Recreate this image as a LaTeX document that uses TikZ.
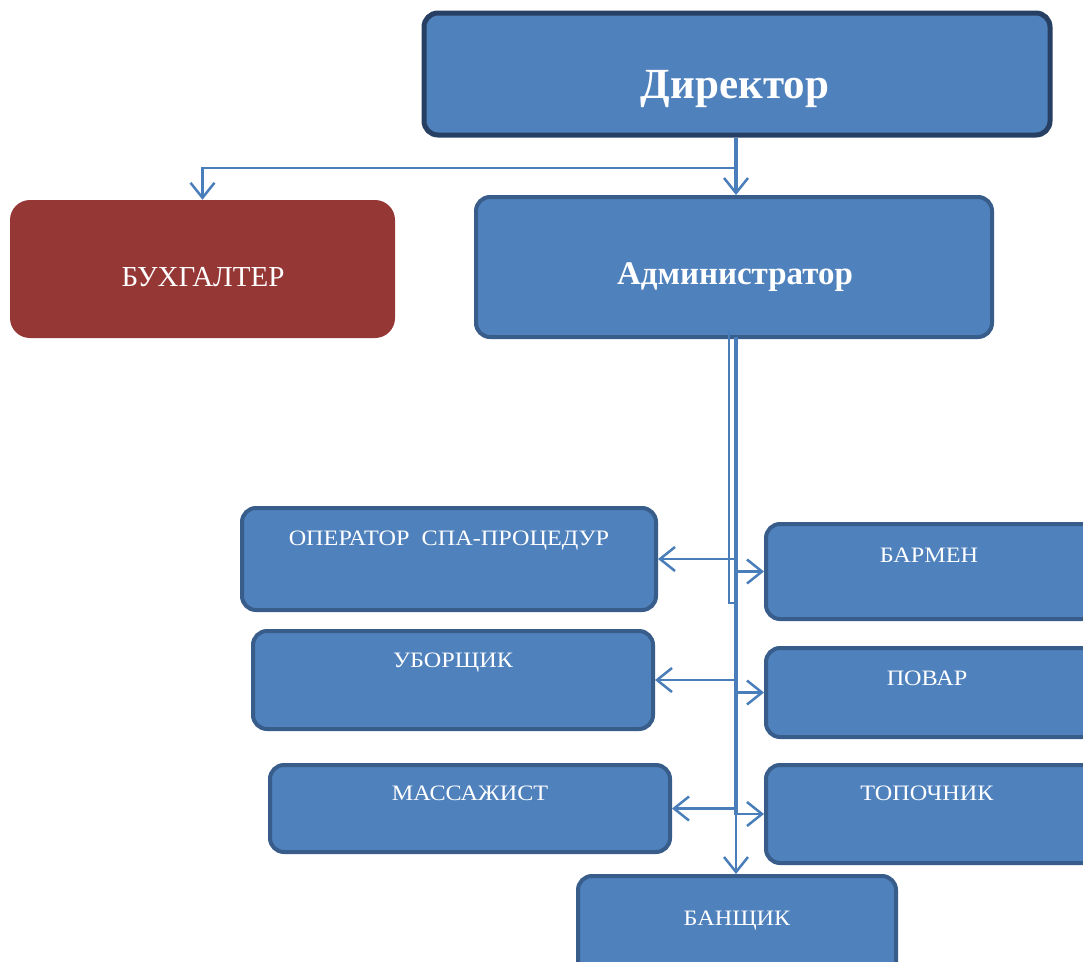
\documentclass[tikz,border=0pt]{standalone}
\usepackage{fontspec}
\setmainfont{Liberation Serif}
\usetikzlibrary{arrows.meta}
\definecolor{boxfill}{HTML}{4F81BD}
\definecolor{boxline}{HTML}{385D8A}
\definecolor{dirline}{HTML}{263F62}
\definecolor{redfill}{HTML}{953735}
\definecolor{conncol}{HTML}{4A7EBB}
\newcommand{\wide}[1]{\scalebox{1.1}[1]{#1}}
\tikzset{
  box/.style={draw=boxline, fill=boxfill, line width=4pt, rounded corners=14pt, inner sep=0pt},
  lbl/.style={text=white, font=\fontsize{22}{26}\selectfont, inner sep=0pt},
  conn/.style={draw=conncol, line width=2.5pt},
  arr/.style={conn, -{Straight Barb[length=15pt, width=24pt, line width=2.5pt]}},
}
\begin{document}
\begin{tikzpicture}[x=1pt, y=-1pt]
\clip (0,0) rectangle (1083,961);
\fill[white] (0,0) rectangle (1083,961);
% boxes
\node[box, draw=dirline, line width=5pt, minimum width=626pt, minimum height=122pt] (dir) at (737,74) {};
\node[text=white, font=\bfseries\fontsize{43}{50}\selectfont, inner sep=0pt] (dirt) at (735,89) {Директор};
\node[fill=redfill, draw=none, rounded corners=20pt, minimum width=385pt, minimum height=138pt, inner sep=0pt] (buh) at (202.5,269) {};
\node[lbl, font=\fontsize{29}{34}\selectfont] (buht) at (203,277) {БУХГАЛТЕР};
\node[box, minimum width=516pt, minimum height=140pt] (adm) at (734,267) {};
\node[text=white, font=\bfseries\fontsize{33}{38}\selectfont, inner sep=0pt] (admt) at (735,277) {Администратор};

\node[box, minimum width=414pt, minimum height=102pt] (op) at (449,559) {};
\node[lbl] (opt) at (449,541) {\wide{ОПЕРАТОР\ \ СПА-ПРОЦЕДУР}};
\node[box, minimum width=330pt, minimum height=95pt] (bar) at (931,571.5) {};
\node[lbl] (bart) at (929,555) {\wide{БАРМЕН}};
\node[box, minimum width=400pt, minimum height=98pt] (ub) at (453,680) {};
\node[lbl] (ubt) at (453,663) {\wide{УБОРЩИК}};
\node[box, minimum width=330pt, minimum height=89pt] (pov) at (931,692.5) {};
\node[lbl] (povt) at (927,678) {\wide{ПОВАР}};
\node[box, minimum width=400pt, minimum height=87pt] (mas) at (470,808.5) {};
\node[lbl] (mast) at (470,793) {\wide{МАССАЖИСТ}};
\node[box, minimum width=330pt, minimum height=98pt] (top) at (931,814) {};
\node[lbl] (topt) at (927,793) {\wide{ТОПОЧНИК}};
\node[box, minimum width=318pt, minimum height=110pt] (ban) at (737,931) {};
\node[lbl] (bant) at (737,921) {\wide{БАНЩИК}};

% connectors
\coordinate (j) at (736,168);
\coordinate (spine) at (736,337);
\coordinate (thinA) at (729,330);
\coordinate (thinB) at (729,603);
\coordinate (thinC) at (735,603);
\coordinate (spineEnd) at (736,815);
\draw[arr, line width=3.5pt] (dir.south -| j) -- (adm.north -| j);
\draw[arr] (j) -| (buh.north);
\draw[conn, line width=2pt] (thinA) -- (thinB) -- (thinC);
\draw[conn, line width=4pt] (spine) -- (spineEnd);
\draw[arr] (spineEnd) -- (ban.north -| spineEnd);
\draw[arr] (op.east -| spine) -- (op.east);
\draw[arr] (ub.east -| spine) -- (ub.east);
\draw[arr] (mas.east -| spine) -- (mas.east);
\draw[arr] (bar.west -| spine) -- (bar.west);
\draw[arr] (pov.west -| spine) -- (pov.west);
\draw[arr] (top.west -| spine) -- (top.west);
\end{tikzpicture}
\end{document}
